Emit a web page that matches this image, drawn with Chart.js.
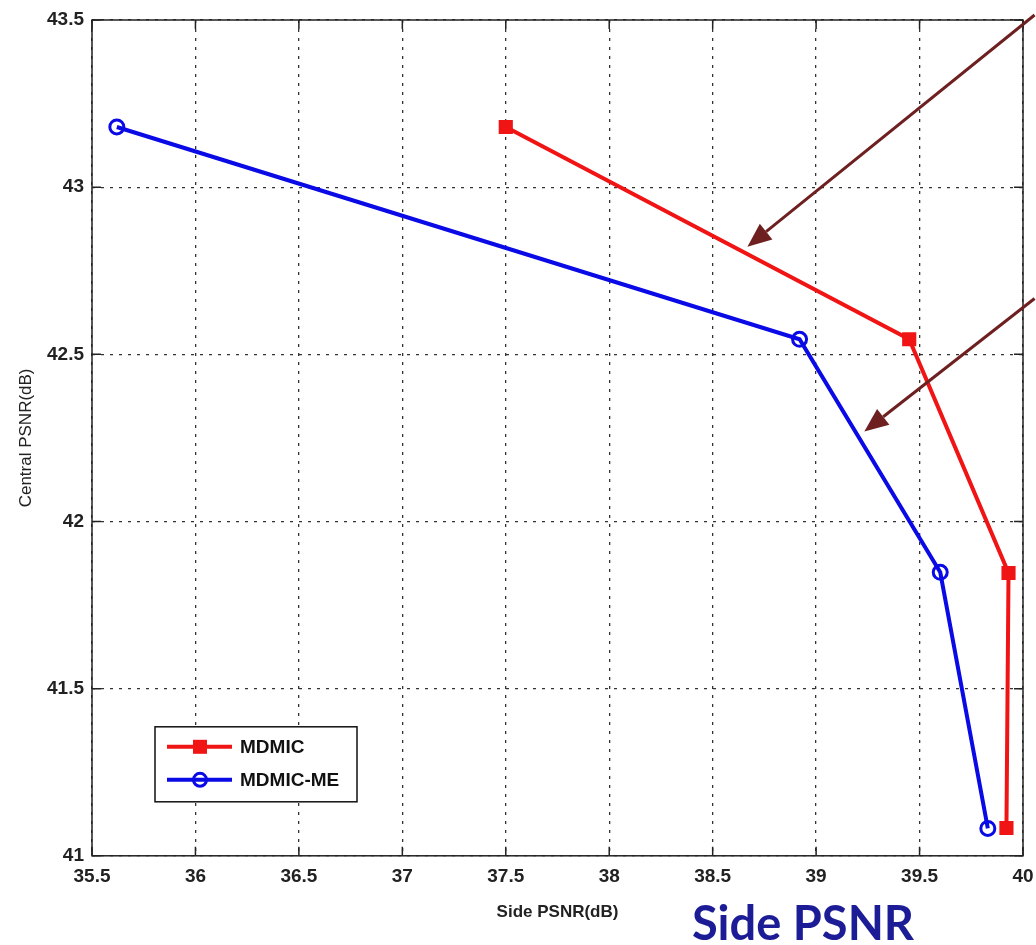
<!DOCTYPE html>
<html>
<head>
<meta charset="utf-8">
<script src="https://cdn.jsdelivr.net/npm/chart.js@4"></script>
<style>
  html, body { margin: 0; padding: 0; background: #fff; }
  #wrap { width: 1036px; height: 945px; }
</style>
</head>
<body>
<div id="wrap"><canvas id="myChart" width="1036" height="945"></canvas></div>
<script>
var sideMdmic = [37.5, 39.45, 39.93, 39.92]
var centralMdmic = [43.18, 42.545, 41.846, 41.083]
var sideMe = [35.62, 38.92, 39.6, 39.83]
var centralMe = [43.18, 42.545, 41.848, 41.082]
var seriesNames = ['MDMIC', 'MDMIC-ME']
var xTicks = [35.5, 36, 36.5, 37, 37.5, 38, 38.5, 39, 39.5, 40]
var yTicks = [41, 41.5, 42, 42.5, 43, 43.5]
// arrows: [fromX, fromY, toX, toY] in axis units
var arrow1 = [40.056, 43.515, 38.668, 42.822]
var arrow2 = [40.056, 42.667, 39.233, 42.269]

function toPoints(xs, ys) {
  return xs.map(function (x, i) { return { x: x, y: ys[i] } })
}

var red = 'rgb(240, 20, 20)'
var blue = 'rgb(10, 10, 230)'
var arrowColor = 'rgb(110, 32, 32)'

function drawArrow(ctx, x1, y1, x2, y2) {
  var ang = Math.atan2(y2 - y1, x2 - x1)
  var len = 24, half = 10
  var bx = x2 - len * Math.cos(ang), by = y2 - len * Math.sin(ang)
  ctx.strokeStyle = arrowColor
  ctx.fillStyle = arrowColor
  ctx.lineWidth = 3
  ctx.beginPath()
  ctx.moveTo(x1, y1)
  ctx.lineTo(bx, by)
  ctx.stroke()
  ctx.beginPath()
  ctx.moveTo(x2, y2)
  ctx.lineTo(bx + half * Math.sin(ang), by - half * Math.cos(ang))
  ctx.lineTo(bx - half * Math.sin(ang), by + half * Math.cos(ang))
  ctx.closePath()
  ctx.fill()
}

var extras = {
  id: 'extras',
  afterDraw: function (chart) {
    var ctx = chart.ctx
    var a = chart.chartArea
    var xs = chart.scales.x, ys = chart.scales.y
    ctx.save()
    // box
    ctx.strokeStyle = '#222'
    ctx.lineWidth = 1.5
    ctx.strokeRect(a.left, a.top, a.right - a.left, a.bottom - a.top)
    // inward ticks
    ctx.beginPath()
    xTicks.forEach(function (v) {
      var px = xs.getPixelForValue(v)
      ctx.moveTo(px, a.bottom); ctx.lineTo(px, a.bottom - 9)
      ctx.moveTo(px, a.top); ctx.lineTo(px, a.top + 9)
    })
    yTicks.forEach(function (v) {
      var py = ys.getPixelForValue(v)
      ctx.moveTo(a.left, py); ctx.lineTo(a.left + 9, py)
      ctx.moveTo(a.right, py); ctx.lineTo(a.right - 9, py)
    })
    ctx.stroke()

    // legend
    var lx = a.left + 63, ly = a.bottom - 129, lw = 202, lh = 75
    ctx.fillStyle = '#fff'
    ctx.fillRect(lx, ly, lw, lh)
    ctx.strokeStyle = '#111'
    ctx.lineWidth = 1.5
    ctx.strokeRect(lx, ly, lw, lh)
    var rows = [ly + 20, ly + 53]
    ctx.lineWidth = 4
    ctx.strokeStyle = red
    ctx.beginPath(); ctx.moveTo(lx + 12, rows[0]); ctx.lineTo(lx + 77, rows[0]); ctx.stroke()
    ctx.fillStyle = red
    ctx.fillRect(lx + 38, rows[0] - 7, 14, 14)
    ctx.strokeStyle = blue
    ctx.beginPath(); ctx.moveTo(lx + 12, rows[1]); ctx.lineTo(lx + 77, rows[1]); ctx.stroke()
    ctx.lineWidth = 3
    ctx.beginPath(); ctx.arc(lx + 45, rows[1], 6.5, 0, Math.PI * 2); ctx.stroke()
    ctx.fillStyle = '#111'
    ctx.font = 'bold 19px "Liberation Sans", Arial, sans-serif'
    ctx.textBaseline = 'middle'
    ctx.fillText(seriesNames[0], lx + 85, rows[0] + 1)
    ctx.fillText(seriesNames[1], lx + 85, rows[1] + 1)

    // arrows
    drawArrow(ctx, xs.getPixelForValue(arrow1[0]), ys.getPixelForValue(arrow1[1]),
      xs.getPixelForValue(arrow1[2]), ys.getPixelForValue(arrow1[3]))
    drawArrow(ctx, xs.getPixelForValue(arrow2[0]), ys.getPixelForValue(arrow2[1]),
      xs.getPixelForValue(arrow2[2]), ys.getPixelForValue(arrow2[3]))

    // big caption
    ctx.fillStyle = 'rgb(28, 28, 150)'
    ctx.font = 'bold 47px Lato, "Open Sans", sans-serif'
    ctx.textAlign = 'center'
    ctx.textBaseline = 'alphabetic'
    ctx.fillText('Side PSNR', 803, 940)
    ctx.restore()
  }
}

var data = {
  datasets: [{
    label: seriesNames[0],
    data: toPoints(sideMdmic, centralMdmic),
    borderColor: red,
    backgroundColor: red,
    borderWidth: 4,
    showLine: true,
    pointStyle: 'rect',
    pointRadius: 10,
    pointBorderWidth: 0,
    pointBackgroundColor: red
  }, {
    label: seriesNames[1],
    data: toPoints(sideMe, centralMe),
    borderColor: blue,
    backgroundColor: blue,
    borderWidth: 4,
    showLine: true,
    pointStyle: 'circle',
    pointRadius: 7,
    pointBorderWidth: 3,
    pointBackgroundColor: 'rgba(255,255,255,0)'
  }]
}

var tickFont = { family: '"Liberation Sans", Arial', size: 19, weight: 'bold' }

const config = {
  type: 'scatter',
  data,
  options: {
    responsive: false,
    animation: false,
    layout: { padding: { left: 12, right: 13, top: 20, bottom: 22 } },
    plugins: { legend: { display: false }, tooltip: { enabled: false } },
    scales: {
      x: {
        type: 'linear',
        min: 35.5,
        max: 40,
        afterBuildTicks: function (s) { s.ticks = xTicks.map(function (v) { return { value: v } }) },
        afterFit: function (s) { s.paddingRight = 0; s.paddingLeft = 0 },
        ticks: { padding: 10, color: '#222', font: tickFont, callback: function (v) { return String(v) } },
        grid: { color: '#333', lineWidth: 1.3, drawTicks: false },
        border: { display: false, dash: [3, 6] },
        title: { display: true, text: 'Side PSNR(dB)', color: '#222', padding: { top: 4, bottom: 0 },
          font: { family: '"Liberation Sans", Arial', size: 17, weight: 'bold' } }
      },
      y: {
        type: 'linear',
        min: 41,
        max: 43.5,
        afterBuildTicks: function (s) { s.ticks = yTicks.map(function (v) { return { value: v } }) },
        afterFit: function (s) { s.width = 80 },
        ticks: { padding: 8, color: '#222', font: tickFont, callback: function (v) { return String(v) } },
        grid: { color: '#333', lineWidth: 1.3, drawTicks: false },
        border: { display: false, dash: [3, 6] },
        title: { display: true, text: 'Central PSNR(dB)', color: '#222', padding: 4,
          font: { family: '"Liberation Sans", Arial', size: 17 } }
      }
    }
  },
  plugins: [extras]
}

var myChart = new Chart(document.getElementById('myChart'), config)
</script>
</body>
</html>
